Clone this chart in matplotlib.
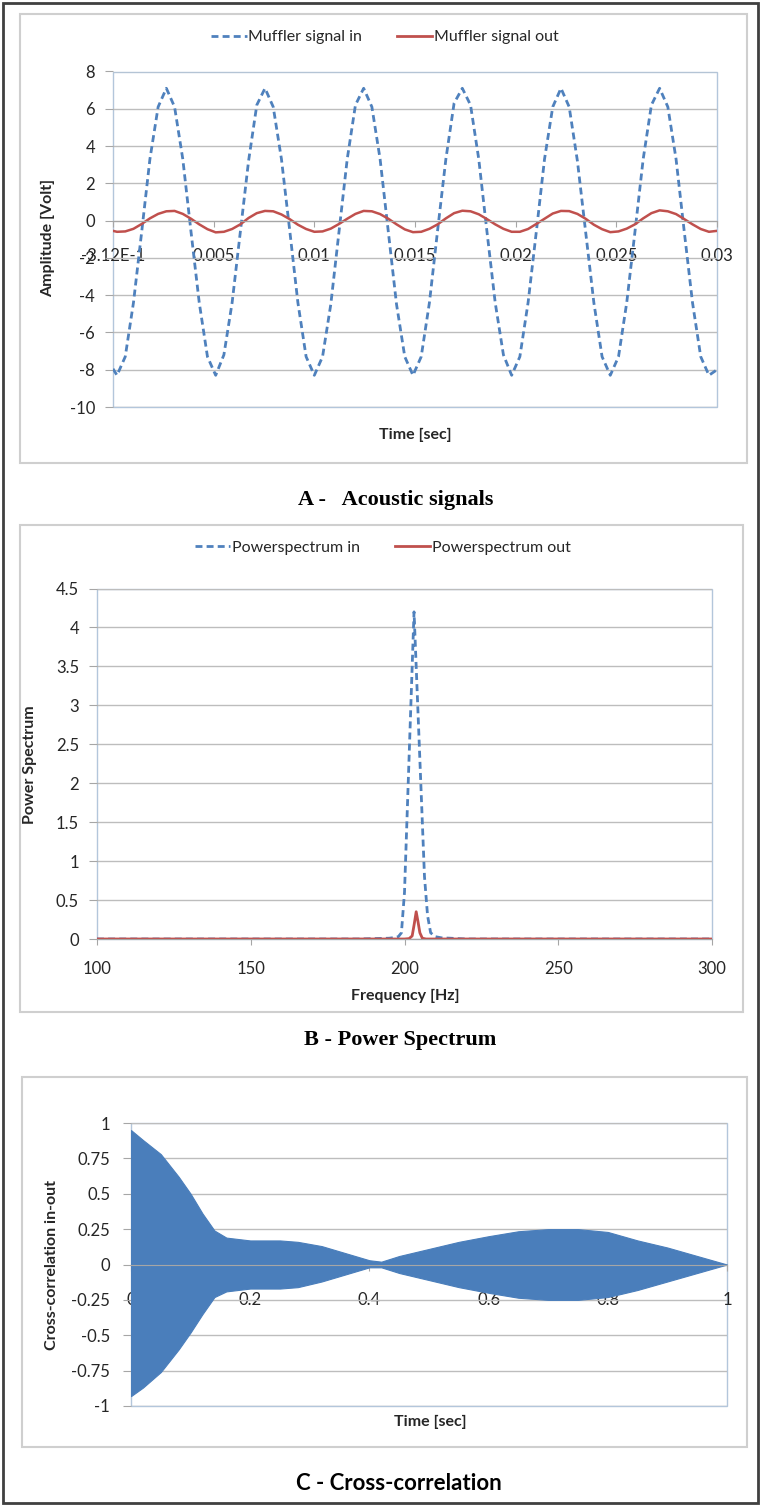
import matplotlib
matplotlib.use('Agg')
import matplotlib.pyplot as plt
import numpy as np
from matplotlib.patches import Rectangle
from matplotlib.lines import Line2D

plt.rcParams['font.family'] = ['Lato', 'DejaVu Sans']

# ---- data -------------------------------------------------------------
# A - acoustic signals, sampled 12 points per period (period ~0.0049 s)
t_sig = np.r_[0.0, 0.0002 + np.arange(73) * 0.0049 / 12, 0.03]
sig_in = [-7.95,
          -8.3, -7.3, -4.4, -0.6, 3.3, 6.1, 7.1, 6.1, 3.3, -0.6, -4.4, -7.3,
          -8.3, -7.2, -4.4, -0.6, 3.2, 6.2, 7.1, 6.1, 3.3, -0.5, -4.4, -7.3,
          -8.3, -7.3, -4.5, -0.6, 3.3, 6.2, 7.1, 6.1, 3.3, -0.6, -4.5, -7.3,
          -8.3, -7.3, -4.4, -0.5, 3.3, 6.3, 7.1, 6.2, 3.3, -0.6, -4.4, -7.2,
          -8.3, -7.3, -4.4, -0.6, 3.3, 6.1, 7.1, 6.1, 3.2, -0.6, -4.4, -7.3,
          -8.3, -7.3, -4.4, -0.6, 3.3, 6.2, 7.1, 6.1, 3.3, -0.6, -4.4, -7.3,
          -8.3, -8.0]
sig_out = [-0.55,
           -0.60, -0.58, -0.44, -0.18, 0.12, 0.36, 0.50, 0.52, 0.36, 0.10, -0.20, -0.46,
           -0.63, -0.60, -0.45, -0.20, 0.14, 0.40, 0.52, 0.50, 0.33, 0.08, -0.22, -0.45,
           -0.60, -0.58, -0.43, -0.18, 0.10, 0.36, 0.52, 0.50, 0.35, 0.10, -0.20, -0.47,
           -0.62, -0.60, -0.44, -0.20, 0.12, 0.40, 0.53, 0.50, 0.34, 0.08, -0.20, -0.44,
           -0.60, -0.60, -0.45, -0.18, 0.10, 0.38, 0.52, 0.51, 0.36, 0.10, -0.22, -0.46,
           -0.62, -0.58, -0.43, -0.20, 0.12, 0.40, 0.55, 0.50, 0.35, 0.08, -0.20, -0.45,
           -0.60, -0.55]
a_xticks = [0, 0.005, 0.01, 0.015, 0.02, 0.025, 0.03]
a_xlabels = ['-3.12E-1', '0.005', '0.01', '0.015', '0.02', '0.025', '0.03']
a_yticks = [-10, -8, -6, -4, -2, 0, 2, 4, 6, 8]

# B - power spectrum
freq_in = [100, 150, 185, 190, 195, 197, 198, 199, 200, 203.1, 206.5, 207.5, 208.5,
           210, 212, 215, 220, 250, 300]
pow_in = [0, 0, 0, 0.005, 0.01, 0.02, 0.03, 0.08, 0.6, 4.2, 0.8, 0.3, 0.08,
          0.03, 0.015, 0.01, 0, 0, 0]
freq_out = [100, 200, 201.5, 202.5, 203.2, 203.8, 204.4, 205, 205.8, 207, 300]
pow_out = [0, 0, 0.005, 0.04, 0.2, 0.35, 0.22, 0.08, 0.01, 0, 0]
b_xticks = [100, 150, 200, 250, 300]
b_yticks = [0, 0.5, 1, 1.5, 2, 2.5, 3, 3.5, 4, 4.5]
b_ylabels = ['0', '0.5', '1', '1.5', '2', '2.5', '3', '3.5', '4', '4.5']

# C - cross-correlation envelope
t_cc = [0, 0.02, 0.05, 0.08, 0.1, 0.12, 0.14, 0.16, 0.2, 0.25, 0.28, 0.32, 0.36,
        0.4, 0.42, 0.45, 0.5, 0.55, 0.6, 0.65, 0.7, 0.75, 0.8, 0.85, 0.9, 0.95, 1.0]
cc_up = [0.95, 0.88, 0.78, 0.62, 0.5, 0.36, 0.24, 0.19, 0.17, 0.17, 0.16, 0.13, 0.08,
         0.03, 0.02, 0.06, 0.11, 0.16, 0.2, 0.235, 0.25, 0.25, 0.23, 0.17, 0.12, 0.06, 0.0]
cc_lo = [-0.93, -0.87, -0.76, -0.6, -0.48, -0.35, -0.23, -0.19, -0.17, -0.17, -0.16,
         -0.12, -0.07, -0.02, -0.02, -0.06, -0.11, -0.16, -0.2, -0.235, -0.25, -0.25,
         -0.23, -0.18, -0.12, -0.06, 0.0]
c_xticks = [0, 0.2, 0.4, 0.6, 0.8, 1]
c_xlabels = ['0', '0.2', '0.4', '0.6', '0.8', '1']
c_yticks = [-1, -0.75, -0.5, -0.25, 0, 0.25, 0.5, 0.75, 1]
c_ylabels = ['-1', '-0.75', '-0.5', '-0.25', '0', '0.25', '0.5', '0.75', '1']

BLUE = '#4f81bd'
RED = '#c0504d'
GRID = '#bdbdbd'
BORDER = '#b3c6db'
TXT = '#262626'

# ---- figure -------------------------------------------------------------
W, H = 761, 1506
fig = plt.figure(figsize=(W / 100, H / 100), dpi=100)


def axes_px(l, t, r, b):
    return fig.add_axes([l / W, 1 - b / H, (r - l) / W, (b - t) / H])


def box_px(l, t, r, b, color, lw):
    fig.patches.append(Rectangle((l / W, 1 - b / H), (r - l) / W, (b - t) / H,
                                 transform=fig.transFigure, fill=False,
                                 ec=color, lw=lw))


def style(ax, zero_axis, xpad, ypad):
    ax.grid(axis='y', color=GRID, lw=1)
    ax.set_axisbelow(True)
    for s in ['top', 'right', 'left']:
        ax.spines[s].set_visible(False)
    ax.add_patch(Rectangle((0, 0), 1, 1, transform=ax.transAxes, fill=False,
                           ec=BORDER, lw=1, clip_on=False, zorder=0.5))
    if zero_axis:
        ax.spines['bottom'].set_position(('data', 0))
    ax.spines['bottom'].set_color('#a6a6a6')
    ax.tick_params(axis='x', length=4, color='#a6a6a6', labelsize=12,
                   labelcolor=TXT, pad=xpad)
    ax.tick_params(axis='y', length=6, color='#a6a6a6', labelsize=12,
                   labelcolor=TXT, pad=ypad)


# outer frame and chart boxes
box_px(3, 3, 758, 1503, '#404040', 2)
box_px(20, 14, 747, 463, '#cfcfcf', 1.5)
box_px(20, 525, 743, 1012, '#cfcfcf', 1.5)
box_px(22, 1077, 747, 1447, '#cfcfcf', 1.5)

# A
ax1 = axes_px(113, 71.5, 717, 407)
ax1.plot(t_sig, sig_in, color=BLUE, lw=2, ls=(0, (2.5, 1.5)))
ax1.plot(t_sig, sig_out, color=RED, lw=1.8)
ax1.set_xlim(0, 0.03)
ax1.set_ylim(-10, 8)
ax1.set_xticks(a_xticks, a_xlabels)
ax1.set_yticks(a_yticks, [str(v) for v in a_yticks])
style(ax1, True, 16, 7)
fig.text(48 / W, 1 - 238 / H, 'Amplitude [Volt]', rotation=90, ha='center',
         va='center', fontsize=11.5, fontweight='bold', color=TXT)
fig.text(415 / W, 1 - 435 / H, 'Time [sec]', ha='center', va='center',
         fontsize=11.5, fontweight='bold', color=TXT)
handles = [Line2D([], [], color=BLUE, lw=2, ls=(0, (2.5, 1.5))),
           Line2D([], [], color=RED, lw=2)]
fig.legend(handles, ['Muffler signal in', 'Muffler signal out'], loc='center',
           bbox_to_anchor=(385 / W, 1 - 37 / H), ncol=2, frameon=False,
           fontsize=11.5, handlelength=2.2, handletextpad=0.1, columnspacing=2.2,
           labelcolor=TXT)
fig.text(396 / W, 1 - 500 / H, 'A -   Acoustic signals', ha='center', va='center',
         fontsize=16, fontweight='bold', family='Liberation Serif', color='black')

# B
ax2 = axes_px(97, 588.5, 712, 939)
ax2.plot(freq_in, pow_in, color=BLUE, lw=2, ls=(0, (2.5, 1.5)))
ax2.plot(freq_out, pow_out, color=RED, lw=2)
ax2.set_xlim(100, 300)
ax2.set_ylim(0, 4.5)
ax2.set_xticks(b_xticks, [str(v) for v in b_xticks])
ax2.set_yticks(b_yticks, b_ylabels)
style(ax2, False, 12, 7)
fig.text(30 / W, 1 - 765 / H, 'Power Spectrum', rotation=90, ha='center',
         va='center', fontsize=11.5, fontweight='bold', color=TXT)
fig.text(405 / W, 1 - 996 / H, 'Frequency [Hz]', ha='center', va='center',
         fontsize=11.5, fontweight='bold', color=TXT)
fig.legend(handles, ['Powerspectrum in', 'Powerspectrum out'], loc='center',
           bbox_to_anchor=(383 / W, 1 - 548 / H), ncol=2, frameon=False,
           fontsize=11.5, handlelength=2.2, handletextpad=0.1, columnspacing=2.2,
           labelcolor=TXT)
fig.text(400 / W, 1 - 1040 / H, 'B - Power Spectrum', ha='center', va='center',
         fontsize=16, fontweight='bold', family='Liberation Serif', color='black')

# C
ax3 = axes_px(131, 1123, 727, 1406)
ax3.fill_between(t_cc, cc_lo, cc_up, color='#4a7ebb', lw=0.8, ec='#4a7ebb')
ax3.set_xlim(0, 1)
ax3.set_ylim(-1, 1)
ax3.set_xticks(c_xticks, c_xlabels)
ax3.set_yticks(c_yticks, c_ylabels)
style(ax3, True, 16, 9)
fig.text(52 / W, 1 - 1265 / H, 'Cross-correlation in-out', rotation=90,
         ha='center', va='center', fontsize=11.5, fontweight='bold', color=TXT)
fig.text(430 / W, 1 - 1422 / H, 'Time [sec]', ha='center', va='center',
         fontsize=11.5, fontweight='bold', color=TXT)
fig.text(399 / W, 1 - 1483 / H, 'C - Cross-correlation', ha='center', va='center',
         fontsize=16, fontweight='bold', color='black')

fig.savefig('out.png', dpi=100)
